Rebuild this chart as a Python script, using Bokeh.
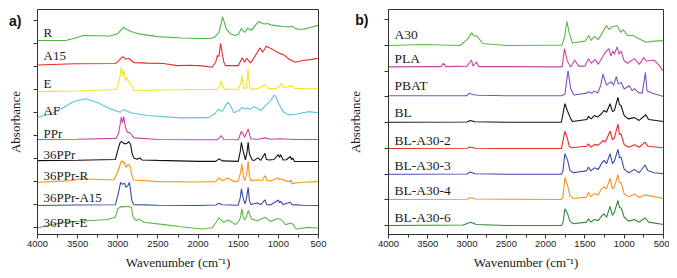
from bokeh.plotting import figure
from bokeh.models import Range1d, FixedTicker, SingleIntervalTicker, ColumnDataSource
from bokeh.layouts import row
from bokeh.embed import file_html
from bokeh.resources import INLINE
from bokeh.core.properties import value

# ---------------- panel a) data ----------------
R_wn = [4000,3650,3550,3430,3100,3000,2930,2890,2860,2800,2720,2500,2200,2000,1850,1800,1740,1710,1695,1680,1650,1600,1540,1500,1460,1420,1380,1335,1290,1245,1200,1160,1135,1080,1035,950,870,825,790,725,650,600,500]
R_abs = [0.13,0.13,0.22,0.35,0.33,0.43,0.70,0.61,0.57,0.48,0.41,0.30,0.24,0.22,0.22,0.26,0.48,0.91,1.17,1.00,0.65,0.43,0.35,0.39,0.65,0.48,0.67,0.57,0.78,0.96,0.87,0.85,0.87,0.80,0.78,0.74,0.72,0.76,0.65,0.61,0.65,0.70,0.80]

A15_wn = [4000,3530,3030,2990,2940,2905,2860,2800,2630,2430,2260,2100,1950,1825,1780,1760,1740,1720,1700,1680,1660,1500,1450,1420,1395,1345,1300,1230,1195,1150,1100,1035,970,930,870,785,700,600,500]
A15_abs = [0.07,0.12,0.13,0.25,0.43,0.33,0.35,0.17,0.15,0.13,0.04,0.06,0.03,-0.03,0.20,0.48,0.45,1.01,0.60,0.20,0.04,0.04,0.38,0.19,0.36,0.16,0.40,0.81,0.62,0.88,0.80,0.67,0.55,0.51,0.33,0.19,0.26,0.30,0.36]

E_wn = [4000,3500,3050,3010,2975,2955,2940,2925,2905,2885,2870,2850,2820,2800,2500,2220,2000,1760,1735,1712,1690,1660,1500,1465,1455,1430,1400,1378,1360,1345,1250,1160,1120,1035,975,960,940,910,830,800,700,500]
E_abs = [-0.09,-0.06,0.00,0.03,0.53,0.97,0.61,0.83,0.39,0.53,0.35,0.29,0.10,-0.04,-0.02,-0.01,0.00,0.00,0.10,0.39,0.10,0.00,0.02,0.30,0.61,0.06,0.05,0.90,0.15,0.01,0.05,0.22,0.05,0.04,0.15,0.29,0.10,0.09,0.17,0.05,0.04,0.03]

AF_wn = [4000,3840,3670,3550,3400,3260,3090,2970,2925,2840,2630,2220,1865,1790,1760,1740,1700,1660,1625,1590,1555,1490,1450,1420,1390,1350,1305,1260,1220,1160,1100,1050,1020,995,960,930,870,765,620,500]
AF_abs = [-0.20,-0.06,0.23,0.48,0.60,0.45,0.16,0.01,0.13,-0.01,-0.13,-0.23,-0.22,-0.05,0.09,0.13,0.04,0.30,0.45,0.25,-0.01,0.09,0.23,0.15,0.20,0.15,0.26,0.18,0.09,0.30,0.50,0.77,0.60,0.38,0.15,0.01,-0.10,-0.06,0.04,-0.01]

PPr_wn = [4000,3500,3020,2990,2965,2955,2940,2925,2905,2880,2850,2835,2800,2500,2000,1760,1710,1680,1500,1460,1420,1375,1345,1250,1165,1100,975,800,500]
PPr_abs = [-0.17,-0.16,-0.12,0.10,0.60,0.80,0.55,0.83,0.36,0.14,0.12,0.07,-0.10,-0.17,-0.18,-0.18,0.00,-0.17,-0.18,0.19,-0.07,0.29,-0.14,-0.16,-0.10,-0.16,-0.14,-0.17,-0.17]

P36_wn = [4000,3500,3030,2990,2970,2950,2925,2905,2880,2865,2840,2820,2800,2760,2725,2700,2500,2000,1780,1740,1700,1500,1475,1460,1440,1410,1390,1376,1360,1325,1300,1255,1220,1167,1150,1120,1055,1000,985,972,955,940,900,850,835,820,800,700,500]
P36_abs = [-0.09,-0.07,-0.04,0.49,0.70,0.74,0.66,0.64,0.68,0.74,0.61,0.20,0.03,-0.03,0.03,-0.06,-0.08,-0.12,-0.12,-0.01,-0.10,-0.12,0.30,0.71,0.35,-0.06,0.30,0.71,0.20,-0.06,-0.08,0.03,-0.08,0.23,-0.03,-0.06,-0.04,0.17,0.05,0.17,0.05,-0.06,-0.05,0.09,-0.05,0.03,-0.12,-0.13,-0.13]

P36R_wn = [4000,3800,3590,3460,3300,3050,2995,2960,2945,2930,2915,2900,2880,2865,2840,2825,2800,2500,2000,1780,1740,1700,1635,1555,1500,1470,1455,1435,1420,1395,1376,1360,1345,1265,1200,1167,1140,1100,1000,985,970,900,850,840,830,780,700,500]
P36R_abs = [-0.03,0.00,0.04,0.12,0.10,0.07,0.48,0.85,0.91,0.80,0.84,0.62,0.70,0.74,0.62,0.26,0.07,0.00,-0.02,0.00,0.16,0.04,0.16,0.00,0.02,0.40,0.77,0.20,0.04,0.30,0.88,0.20,0.04,0.07,0.05,0.26,0.04,0.03,0.16,0.08,0.12,0.02,0.00,0.08,-0.10,-0.05,-0.03,0.00]

P36A_wn = [4000,3500,3030,2995,2965,2945,2935,2915,2900,2875,2855,2840,2825,2800,2500,2000,1780,1740,1700,1500,1475,1460,1440,1415,1395,1376,1360,1340,1265,1220,1167,1145,1100,1000,985,970,940,850,830,700,500]
P36A_abs = [-0.04,-0.02,-0.01,0.47,0.97,0.88,0.90,0.93,0.75,0.82,0.97,0.61,0.17,0.00,-0.03,-0.04,-0.02,0.06,-0.01,-0.03,0.30,0.68,0.30,0.03,0.30,0.75,0.15,0.00,0.07,0.00,0.20,0.00,-0.02,0.20,0.08,0.14,0.00,0.10,0.00,-0.03,-0.04]

P36E_wn = [4000,3670,3380,3130,3030,3000,2965,2920,2880,2830,2810,2770,2740,2675,2425,2220,1950,1825,1780,1740,1680,1620,1535,1500,1475,1455,1440,1420,1400,1375,1335,1265,1165,1100,1000,960,910,850,820,780,620,500]
P36E_abs = [-0.01,0.23,0.30,0.35,0.45,0.81,0.91,0.90,0.93,0.88,0.45,0.30,0.38,0.23,0.13,0.04,-0.06,-0.01,0.20,0.42,0.23,0.33,0.13,0.25,0.40,0.81,0.50,0.33,0.45,0.74,0.38,0.30,0.45,0.27,0.40,0.33,0.13,0.19,0.16,-0.06,0.01,-0.03]

a_names = ["R", "A15", "E", "AF", "PPr", "36PPr", "36PPr-R", "36PPr-A15", "36PPr-E"]
a_offsets = [8, 7, 6, 5, 4, 3, 2, 1, 0]
a_ticks = [0, 1, 2, 3, 4, 5, 6, 7, 8, 9]
a_wn = [R_wn, A15_wn, E_wn, AF_wn, PPr_wn, P36_wn, P36R_wn, P36A_wn, P36E_wn]
a_abs = [R_abs, A15_abs, E_abs, AF_abs, PPr_abs, P36_abs, P36R_abs, P36A_abs, P36E_abs]

# ---------------- panel b) data ----------------
A30_wn = [4000,3550,3090,3000,2940,2910,2880,2840,2800,2500,2000,1795,1760,1730,1700,1660,1495,1455,1420,1380,1330,1270,1225,1195,1160,1125,1090,1045,1015,955,890,830,725,620,500]
A30_abs = [-0.01,0.03,-0.01,0.22,0.48,0.35,0.38,0.22,0.07,-0.01,0.00,0.00,0.30,0.93,0.48,0.09,0.16,0.38,0.19,0.35,0.22,0.54,0.77,0.61,0.71,0.74,0.77,0.50,0.61,0.38,0.38,0.28,0.12,0.16,0.18]

PLA_wn = [4000,3500,3330,3300,3270,3000,2945,2925,2880,2850,2500,2000,1790,1760,1725,1680,1630,1580,1500,1455,1420,1370,1330,1245,1195,1170,1145,1125,1090,1065,1040,1000,955,870,810,750,720,620,555,505]
PLA_abs = [0.16,0.17,0.17,0.30,0.17,0.19,0.43,0.19,0.35,0.17,0.17,0.16,0.16,0.87,0.39,0.16,0.43,0.19,0.19,0.48,0.30,0.45,0.26,0.71,0.87,0.58,0.78,0.65,0.94,0.65,0.78,0.39,0.30,0.48,0.26,0.52,0.39,0.42,0.22,0.00]

PBAT_wn = [4000,3000,2970,2920,2850,2500,1800,1755,1715,1680,1640,1475,1455,1410,1380,1340,1300,1270,1225,1195,1165,1135,1100,1075,1040,1000,935,900,870,820,770,730,710,640,500]
PBAT_abs = [0.04,0.04,0.14,0.08,0.06,0.04,0.04,0.10,1.01,0.30,0.07,0.14,0.19,0.14,0.23,0.14,0.43,0.88,0.45,0.53,0.58,0.45,0.79,0.49,0.56,0.30,0.43,0.23,0.32,0.17,0.14,0.94,0.23,0.14,0.01]

BL_wn = [4000,3000,2960,2900,2500,1800,1755,1725,1680,1660,1475,1455,1420,1380,1340,1290,1255,1225,1180,1150,1125,1080,1060,1040,1000,950,870,810,725,690,500]
BL_abs = [0.01,0.02,0.08,0.03,0.01,0.01,0.73,0.47,0.14,0.04,0.12,0.24,0.14,0.27,0.21,0.34,0.47,0.40,0.73,0.43,0.47,0.98,0.69,0.66,0.27,0.14,0.19,0.08,0.30,0.12,0.04]

BL2_wn = [4000,3000,2960,2900,2500,1800,1755,1725,1700,1670,1480,1455,1425,1380,1330,1265,1240,1180,1150,1125,1080,1060,1040,1000,940,870,810,735,700,500]
BL2_abs = [-0.01,0.00,0.05,0.00,-0.01,-0.01,0.66,0.40,0.08,0.02,0.08,0.17,0.04,0.14,0.12,0.30,0.24,0.66,0.34,0.40,0.94,0.53,0.56,0.14,0.04,0.14,0.04,0.24,0.08,0.02]

BL3_wn = [4000,3000,2960,2900,2500,1800,1780,1755,1720,1690,1650,1480,1455,1425,1380,1330,1290,1255,1225,1180,1150,1125,1080,1060,1040,1000,940,870,810,735,700,620,500]
BL3_abs = [-0.01,0.00,0.08,0.01,-0.01,-0.01,0.12,0.79,0.53,0.14,0.05,0.12,0.27,0.12,0.24,0.18,0.40,0.53,0.40,0.79,0.40,0.50,0.96,0.63,0.66,0.18,0.05,0.18,0.05,0.35,0.14,0.05,0.01]

BL4_wn = [4000,3000,2960,2900,2500,1800,1780,1755,1720,1690,1650,1480,1455,1425,1380,1330,1290,1255,1225,1180,1150,1125,1080,1060,1040,1000,940,870,810,735,690,500]
BL4_abs = [0.01,0.02,0.09,0.03,0.02,0.01,0.10,0.87,0.54,0.16,0.05,0.10,0.28,0.12,0.24,0.19,0.42,0.50,0.42,0.84,0.42,0.50,0.97,0.67,0.67,0.22,0.12,0.22,0.09,0.19,0.16,0.05]

BL6_wn = [4000,3050,2955,2880,2500,1800,1780,1755,1720,1690,1650,1480,1455,1425,1380,1330,1290,1255,1225,1180,1150,1125,1080,1060,1040,1000,940,870,810,735,690,500]
BL6_abs = [0.00,0.02,0.13,0.04,0.00,0.00,0.10,0.65,0.45,0.17,0.07,0.13,0.26,0.13,0.23,0.19,0.36,0.45,0.32,0.74,0.39,0.52,0.97,0.69,0.69,0.32,0.17,0.23,0.13,0.30,0.13,0.04]

b_names = ["A30", "PLA", "PBAT", "BL", "BL-A30-2", "BL-A30-3", "BL-A30-4", "BL-A30-6"]
b_offsets = [7, 6, 5, 4, 3, 2, 1, 0]
b_ticks = [0, 1, 2, 3, 4, 5, 6, 7, 8]
b_wn = [A30_wn, PLA_wn, PBAT_wn, BL_wn, BL2_wn, BL3_wn, BL4_wn, BL6_wn]
b_abs = [A30_abs, PLA_abs, PBAT_abs, BL_abs, BL2_abs, BL3_abs, BL4_abs, BL6_abs]

x_title = "Wavenumber (cm\u207b\u00b9)"
y_title = "Absorbance"
panel_tags = ["a)", "b)"]

# ---------------- styles / layout ----------------
a_colors = ["#4DB748", "#EC2A24", "#F2E32A", "#5CC6DC", "#C746AA", "#111111", "#F7931E", "#3C4BA8", "#5DB846"]
b_colors = ["#5DB846", "#C746AA", "#7B52C1", "#111111", "#EC2A24", "#3C4BA8", "#F7931E", "#2E8A34"]
a_label_dy = [0.49, 0.48, 0.25, 0.10, 0.11, 0.19, 0.25, 0.32, 0.23]
b_label_dy = [0.40, 0.49, 0.43, 0.37, 0.29, 0.32, 0.34, 0.30]

AX = "#333333"


def make_panel(width, y_range, mb_left, mb_right, tag_standoff, ylab_standoff, names, offsets, ticks,
               wns, abss, colors, label_dy, font_px, tag):
    p = figure(width=width, height=272, x_range=Range1d(4000, 500), y_range=y_range,
               output_backend="svg", toolbar_location=None,
               min_border_left=mb_left, min_border_right=mb_right,
               min_border_top=9, min_border_bottom=38)
    p.grid.visible = False
    p.outline_line_color = AX
    p.outline_line_width = 1
    p.background_fill_color = "white"
    p.border_fill_color = "white"

    for wn, ab, off, col in zip(wns, abss, offsets, colors):
        ys = [a + off for a in ab]
        p.line(wn, ys, line_color=col, line_width=1.1)

    src = ColumnDataSource(dict(x=[3925] * len(names),
                                y=[o + d for o, d in zip(offsets, label_dy)],
                                t=names))
    p.text(x="x", y="y", text="t", source=src, text_font=value("Liberation Serif"),
           text_font_size=value(font_px), text_color="#1a1a1a",
           text_align="left", text_baseline="middle")

    xa = p.xaxis[0]
    xa.ticker = SingleIntervalTicker(interval=500, num_minor_ticks=2)
    xa.major_tick_in = 0
    xa.major_tick_out = 4
    xa.minor_tick_in = 0
    xa.minor_tick_out = 3
    xa.axis_line_color = AX
    xa.major_tick_line_color = AX
    xa.minor_tick_line_color = AX
    xa.major_label_text_font = "Liberation Sans"
    xa.major_label_text_font_size = "9.5px"
    xa.major_label_text_color = "#222222"
    xa.major_label_standoff = 2
    xa.axis_label = x_title
    xa.axis_label_text_font = "Liberation Serif"
    xa.axis_label_text_font_size = "13px"
    xa.axis_label_text_font_style = "normal"
    xa.axis_label_text_color = "#1a1a1a"
    xa.axis_label_standoff = 5

    # y axis: only the top tick carries a label (the panel tag); the others are unlabeled
    top = ticks[-1]
    ya = p.yaxis[0]
    ya.ticker = FixedTicker(ticks=[top], minor_ticks=ticks[:-1])
    ya.major_tick_in = 0
    ya.major_tick_out = 4
    ya.minor_tick_in = 0
    ya.minor_tick_out = 4
    ya.axis_line_color = AX
    ya.major_tick_line_color = AX
    ya.minor_tick_line_color = AX
    ya.major_label_overrides = {top: tag}
    ya.major_label_text_font = "Liberation Sans"
    ya.major_label_text_font_style = "bold"
    ya.major_label_text_font_size = "14px"
    ya.major_label_text_color = "#111111"
    ya.major_label_standoff = tag_standoff
    ya.axis_label = y_title
    ya.axis_label_text_font = "Liberation Serif"
    ya.axis_label_text_font_size = "13px"
    ya.axis_label_text_font_style = "normal"
    ya.axis_label_text_color = "#1a1a1a"
    ya.axis_label_standoff = ylab_standoff
    return p


p1 = make_panel(345, Range1d(-0.30, 9.48), 37, 27, 12, -17, a_names, a_offsets, a_ticks,
                a_wn, a_abs, a_colors, a_label_dy, "13px", panel_tags[0])
p2 = make_panel(324, Range1d(-0.35, 8.39), 38, 6, 16, -11, b_names, b_offsets, b_ticks,
                b_wn, b_abs, b_colors, b_label_dy, "13.5px", panel_tags[1])

layout = row(p1, p2)
open("out.html", "w").write(file_html(layout, INLINE))
